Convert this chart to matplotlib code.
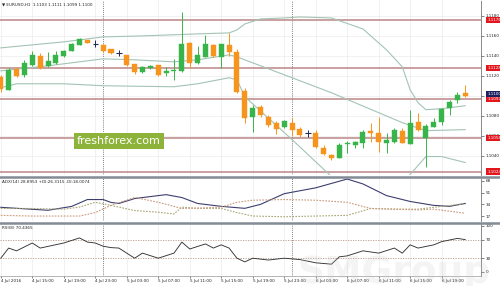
import matplotlib.pyplot as plt
from matplotlib.lines import Line2D

# EURUSD H1, 4 Jul 11:00 -> 6 Jul 22:00 (60 velas)
opens = [1.1119, 1.1106, 1.1127, 1.1121, 1.1131, 1.1140, 1.1130, 1.1133, 1.1140, 1.1145,
         1.1151, 1.1156, 1.1152, 1.1151, 1.1147, 1.1143, 1.1141, 1.1132, 1.1124, 1.1128,
         1.1131, 1.1123, 1.1125, 1.1125, 1.1153, 1.1133, 1.1139, 1.1151, 1.1139, 1.1151,
         1.1144, 1.1105, 1.1079, 1.1089, 1.1079, 1.1073, 1.1069, 1.1073, 1.1067, 1.1063,
         1.1063, 1.1048, 1.1041, 1.1038, 1.1052, 1.1051, 1.1053, 1.1065, 1.1063, 1.1053,
         1.1054, 1.1065, 1.1052, 1.1074, 1.1058, 1.1069, 1.1074, 1.1088, 1.1096, 1.1103]
highs = [1.1121, 1.1128, 1.1129, 1.1136, 1.1145, 1.1143, 1.1144, 1.1145, 1.1146, 1.1153,
         1.1158, 1.1156, 1.1156, 1.1152, 1.1147, 1.1146, 1.1141, 1.1132, 1.1130, 1.1131,
         1.1131, 1.1129, 1.1137, 1.1184, 1.1154, 1.1150, 1.1161, 1.1152, 1.1152, 1.1163,
         1.1147, 1.1108, 1.1091, 1.1091, 1.1081, 1.1075, 1.1076, 1.1078, 1.1069, 1.1066,
         1.1066, 1.1051, 1.1042, 1.1053, 1.1055, 1.1055, 1.1066, 1.1073, 1.1079, 1.1063,
         1.1068, 1.1068, 1.1086, 1.1083, 1.1072, 1.1078, 1.1088, 1.1096, 1.1104, 1.1111]
lows = [1.1104, 1.1106, 1.1119, 1.1119, 1.1130, 1.1127, 1.1129, 1.1132, 1.1139, 1.1145,
        1.1151, 1.1153, 1.1149, 1.1144, 1.1142, 1.1140, 1.1130, 1.1122, 1.1123, 1.1127,
        1.1120, 1.1120, 1.1116, 1.1124, 1.1128, 1.1132, 1.1139, 1.1139, 1.1128, 1.1140,
        1.1103, 1.1073, 1.1064, 1.1079, 1.1069, 1.1062, 1.1068, 1.1060, 1.1059, 1.1059,
        1.1048, 1.1041, 1.1036, 1.1038, 1.1043, 1.1048, 1.1048, 1.1054, 1.1044, 1.1043,
        1.1053, 1.1053, 1.1052, 1.1065, 1.1029, 1.1069, 1.1071, 1.1081, 1.1093, 1.1099]
closes = [1.1107, 1.1126, 1.1120, 1.1133, 1.1141, 1.1128, 1.1135, 1.1141, 1.1145, 1.1152,
          1.1157, 1.1153, 1.1152, 1.1145, 1.1143, 1.1143, 1.1131, 1.1124, 1.1129, 1.1130,
          1.1121, 1.1125, 1.1126, 1.1152, 1.1133, 1.1141, 1.1152, 1.1140, 1.1152, 1.1144,
          1.1104, 1.1078, 1.1088, 1.1081, 1.1071, 1.1067, 1.1075, 1.1066, 1.1061, 1.1063,
          1.1049, 1.1042, 1.1038, 1.1051, 1.1053, 1.1054, 1.1064, 1.1063, 1.1054, 1.1056,
          1.1066, 1.1053, 1.1073, 1.1066, 1.1070, 1.1074, 1.1087, 1.1094, 1.1101, 1.1100]

# Bandas de Bollinger
bb_up_i = [0, 4, 8, 13, 18, 25, 29, 30, 31, 33, 36, 38, 42, 46, 49, 51, 52, 53, 54, 56, 59]
bb_up_v = [1.1148, 1.1151, 1.1154, 1.1159, 1.1160, 1.1162, 1.1163, 1.1166, 1.1172, 1.1177,
           1.1178, 1.1179, 1.1178, 1.1167, 1.1146, 1.1129, 1.1106, 1.1093, 1.1086, 1.1087, 1.1090]
bb_mid_i = [0, 6, 13, 17, 22, 25, 29, 30, 31, 37, 42, 51, 54, 59]
bb_mid_v = [1.1125, 1.1130, 1.1137, 1.1136, 1.1134, 1.1136, 1.1141, 1.1139, 1.1136, 1.1118,
            1.1103, 1.1073, 1.1065, 1.1066]
bb_low_i = [0, 2, 8, 13, 22, 25, 29, 30, 31, 37, 42, 46, 50, 52, 54, 56, 59]
bb_low_v = [1.1108, 1.1112, 1.1112, 1.1110, 1.1109, 1.1112, 1.1118, 1.1116, 1.1099, 1.1056,
            1.1019, 1.1001, 1.1006, 1.1021, 1.1039, 1.1039, 1.1033]

levels = [1.1176, 1.1128, 1.1097, 1.1058, 1.1024]
price_ticks = [1.104, 1.106, 1.108, 1.110, 1.112, 1.114, 1.116, 1.118]

# ADX(14)
adx_i = [0, 6, 9, 11, 13, 14, 15, 17, 19, 21, 23, 25, 28, 31, 33, 36, 40, 44, 46, 49, 52, 55, 57, 59]
adx_v = [29.7, 25.4, 31, 41, 41, 36.8, 35.3, 42.4, 45.3, 48.1, 43.9, 35.3, 31.1, 28.2, 34,
         49.5, 58, 70.8, 63.7, 46.7, 38.2, 32.5, 31.1, 35.3]
pdi_i = [0, 4, 8, 10, 12, 14, 17, 20, 22, 23, 25, 28, 30, 32, 36, 40, 44, 47, 50, 53, 56, 59]
pdi_v = [28, 28, 27, 30, 37, 32.5, 25, 22.6, 20, 30, 28, 28, 22, 17, 16, 17, 18, 28, 27, 27, 31, 35]
mdi_i = [0, 4, 8, 10, 12, 14, 17, 20, 23, 26, 28, 30, 32, 36, 40, 44, 47, 50, 53, 55, 57, 59]
mdi_v = [18, 17, 17, 17, 22, 32.5, 44, 37, 28, 29, 30, 37, 40, 41, 40, 37, 28, 27, 26, 27, 24, 21]
adx_ticks = [17, 34, 51, 68]

# RSI(8)
rsi_i = [0, 1, 2, 4, 5, 8, 10, 11, 12, 13, 14, 15, 17, 18, 20, 22, 23, 24, 26, 27, 28, 29,
         30, 31, 32, 34, 36, 38, 40, 42, 43, 44, 46, 48, 50, 51, 52, 53, 55, 56, 58, 59]
rsi_v = [30, 52, 46, 63, 52, 63, 74, 65, 63, 56, 53, 52, 30, 41, 30, 41, 65, 50, 61, 52, 59, 52,
         30, 22, 30, 26, 30, 27, 20, 17, 33, 35, 46, 41, 52, 41, 59, 52, 59, 66, 73, 70.4]
rsi_ticks = [0, 30, 70, 100]

time_labels = ["4 Jul 2016", "4 Jul 15:00", "4 Jul 19:00", "4 Jul 23:00", "5 Jul 03:00",
               "5 Jul 07:00", "5 Jul 11:00", "5 Jul 15:00", "5 Jul 19:00", "5 Jul 23:00",
               "6 Jul 03:00", "6 Jul 07:00", "6 Jul 11:00", "6 Jul 15:00", "6 Jul 19:00"]
day_seps = [13, 37]

GREEN = "#37b54a"
ORANGE = "#f7941d"
BB = "#a3c4b4"
LEVEL = "#bb8686"

H = 286.0
fig = plt.figure(figsize=(5, 2.86), dpi=100)
W = 481 / 500
ax = fig.add_axes([0, 1 - 175 / H, W, 175 / H])
ax_adx = fig.add_axes([0, 1 - 221 / H, W, 43 / H])
ax_rsi = fig.add_axes([0, 1 - 276 / H, W, 52 / H])

xmin, xmax = -0.1, 61.0
for a in (ax, ax_adx, ax_rsi):
    a.set_xlim(xmin, xmax)
    a.set_xticks(range(0, 60, 4))
    a.grid(True, axis="x", color="#ececec", lw=0.5)
    a.set_axisbelow(True)
    a.yaxis.tick_right()
    a.tick_params(axis="y", labelsize=3, length=2, pad=1.5, width=0.4, colors="#222")
    a.tick_params(axis="x", length=0, labelbottom=False)
    for s in ("left", "top", "bottom"):
        a.spines[s].set_visible(False)
    a.spines["right"].set_linestyle((0, (1, 1)))
    a.spines["right"].set_linewidth(0.6)
    a.spines["right"].set_color("#777")
    for d in day_seps:
        a.axvline(d, color="#555", lw=0.6, ls=(0, (1, 1.5)), zorder=1)

# --- precio ---
ax.set_ylim(1.10205, 1.1196)
ax.set_yticks(price_ticks)
ax.set_yticklabels([f"{p:.4f}" for p in price_ticks])
ax.grid(True, axis="y", color="#ececec", lw=0.5)

for lv in levels:
    ax.axhline(lv, color=LEVEL, lw=1.1, zorder=2)

ax.plot(bb_up_i, bb_up_v, color=BB, lw=0.8, zorder=2)
ax.plot(bb_mid_i, bb_mid_v, color=BB, lw=0.8, zorder=2)
ax.plot(bb_low_i, bb_low_v, color=BB, lw=0.8, zorder=2)

for i in range(len(opens)):
    o, h, l, c = opens[i], highs[i], lows[i], closes[i]
    if c > o:
        col = GREEN
    elif c < o:
        col = ORANGE
    else:
        col = "#1f2a55"
    ax.vlines(i, l, h, color=col, lw=0.7, zorder=3)
    if c == o:
        ax.hlines(o, i - 0.35, i + 0.35, color=col, lw=0.8, zorder=4)
    else:
        ax.bar(i, abs(c - o), bottom=min(o, c), width=0.64, color=col, edgecolor=col,
               lw=0.3, zorder=4)

for lv in levels:
    ax.annotate(f"{lv:.4f}", xy=(1.0, lv), xycoords=("axes fraction", "data"),
                xytext=(4.5, 0), textcoords="offset points", fontsize=3, color="white",
                va="center", ha="left", annotation_clip=False,
                bbox=dict(boxstyle="square,pad=0.25", fc="#e3161e", ec="none"))
ax.annotate("1.1100", xy=(1.0, 1.1100), xycoords=("axes fraction", "data"),
            xytext=(4.5, 1.5), textcoords="offset points", fontsize=3, color="white",
            va="center", ha="left", annotation_clip=False,
            bbox=dict(boxstyle="square,pad=0.25", fc="#1c2060", ec="none"))

ax.text(0.004, 0.985, "\u25bc EURUSD,H1  1.1103 1.1111 1.1099 1.1100", transform=ax.transAxes,
        fontsize=3, color="#222", va="top", ha="left")

# logo
ax.text(119 / 481, 1 - 141 / 175, "freshforex.com", transform=ax.transAxes, fontsize=8,
        color="white", ha="center", va="center", zorder=6,
        bbox=dict(boxstyle="square,pad=0.3", fc="#8db33a", ec="none"))

# --- ADX ---
ax_adx.set_ylim(9.8, 72.3)
ax_adx.set_yticks(adx_ticks)
ax_adx.plot(adx_i, adx_v, color="#3c3f6e", lw=0.8, zorder=3)
ax_adx.plot(pdi_i, pdi_v, color="#a9a676", lw=0.8, ls=(0, (1.5, 1.2)), zorder=3)
ax_adx.plot(mdi_i, mdi_v, color="#c99a7c", lw=0.8, ls=(0, (1.5, 1.2)), zorder=3)
ax_adx.text(0.004, 0.96, "ADX(14) 28.8953 +DI:26.3115 -DI:18.0074", transform=ax_adx.transAxes,
            fontsize=3, color="#222", va="top", ha="left")

# --- RSI ---
ax_rsi.set_ylim(-8.7, 104.3)
ax_rsi.set_yticks(rsi_ticks)
ax_rsi.axhline(70, color="#b79a86", lw=0.6, ls=(0, (1.5, 1.5)))
ax_rsi.axhline(30, color="#b79a86", lw=0.6, ls=(0, (1.5, 1.5)))
ax_rsi.plot(rsi_i, rsi_v, color="#333", lw=0.65, zorder=3)
ax_rsi.text(0.004, 0.97, "RSI(8) 70.4365", transform=ax_rsi.transAxes,
            fontsize=3, color="#222", va="top", ha="left")
ax_rsi.tick_params(axis="x", labelbottom=True, labelsize=3, length=1.5, pad=1, width=0.4,
                   colors="#222")
ax_rsi.set_xticklabels(time_labels, ha="left")
ax_rsi.spines["bottom"].set_visible(True)
ax_rsi.spines["bottom"].set_color("#999")
ax_rsi.spines["bottom"].set_linewidth(0.5)

# separadores de ventanas
for yy in (176.5, 222.5):
    fig.add_artist(Line2D([0, 1], [1 - yy / H, 1 - yy / H], color="#838b94", lw=1.8))

# marca de agua tenue
fig.text(297 / 500, 1 - 283 / H, "SMGroup", fontsize=27, fontweight="bold", color="#c8c8c8",
         alpha=0.2, va="baseline", ha="left", zorder=0)

fig.savefig("out.png", dpi=100, facecolor="white")
